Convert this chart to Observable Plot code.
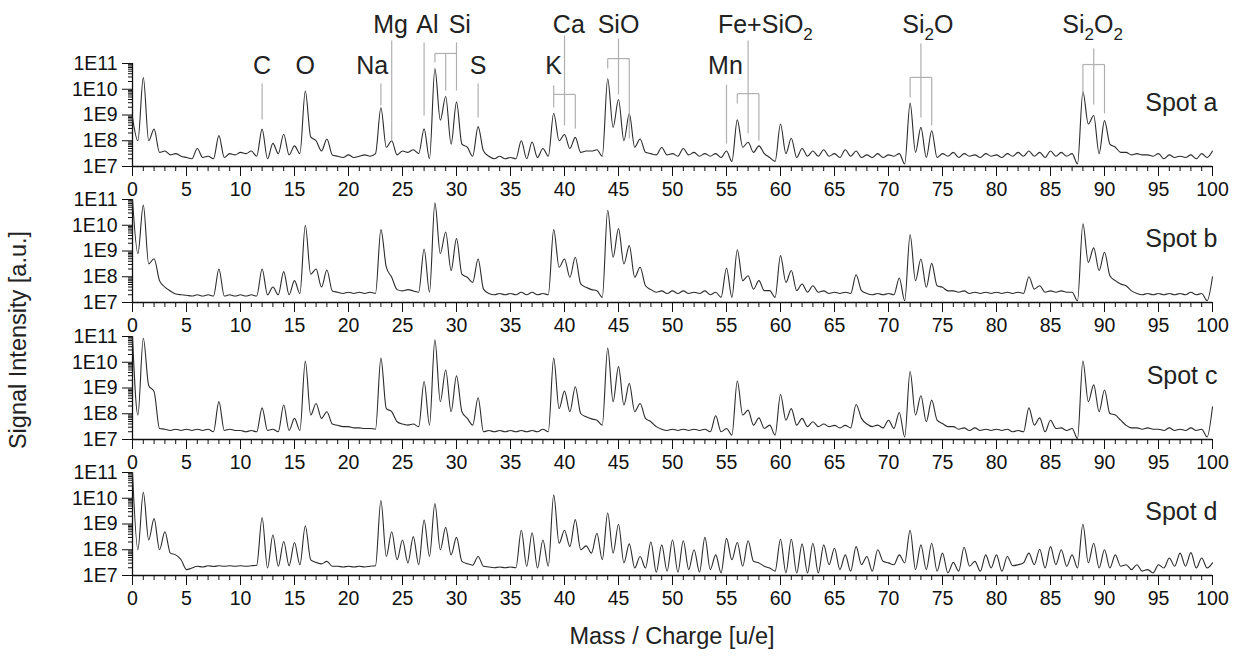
<!DOCTYPE html>
<html><head><meta charset="utf-8">
<script src="https://cdn.jsdelivr.net/npm/d3@7"></script>
<script src="https://cdn.jsdelivr.net/npm/@observablehq/plot@0.6"></script>
<style>
body{margin:0;background:#fff;font-family:"Liberation Sans",Arial,sans-serif;}
#wrap{position:relative;width:1237px;height:660px;overflow:hidden;background:#fff;}
.ttl{position:absolute;font-size:23.5px;color:#222;white-space:nowrap;transform:translate(-50%,-50%);}
</style></head><body><div id="wrap"></div>
<script>
// sampling grid of the spectra (mass/charge, u/e)
const massGrid = d3.range(0, 100.5, 0.5);
// log10 of the signal intensity, one value per grid point
const spotA = [
8.9,8.0,10.45,8.0,8.45,7.55,7.6,7.45,7.5,7.4, 7.35,7.3,7.7,7.35,7.4,7.3,8.2,7.35,7.5,7.45,
7.55,7.5,7.6,7.4,8.45,7.3,7.9,7.5,8.25,7.45, 7.8,7.5,9.93,8.15,8.0,7.6,8.07,7.45,7.4,7.35,
7.45,7.35,7.4,7.45,7.4,7.5,9.28,7.75,8.0,7.45, 7.6,7.55,7.65,7.5,8.46,7.3,10.8,8.8,9.72,7.87,
9.5,7.87,7.75,7.4,8.55,7.6,7.4,7.3,7.4,7.3, 7.35,7.3,8.0,7.3,7.95,7.35,7.7,7.4,9.07,8.0,
8.24,7.7,8.13,7.55,7.6,7.6,7.65,7.4,10.41,8.52, 9.6,8.0,9.05,7.75,8.07,7.55,7.5,7.45,7.74,7.45,
7.5,7.4,7.7,7.45,7.55,7.4,7.5,7.4,7.5,7.35, 7.6,7.2,8.81,7.75,7.94,7.55,7.8,7.5,7.35,7.2,
8.65,7.5,8.1,7.35,7.7,7.4,7.6,7.4,7.65,7.4, 7.5,7.35,7.65,7.4,7.6,7.35,7.45,7.35,7.5,7.35,
7.45,7.4,7.5,7.1,9.46,7.55,8.52,7.35,8.39,7.35, 7.5,7.4,7.55,7.35,7.5,7.4,7.45,7.35,7.5,7.4,
7.45,7.35,7.5,7.4,7.55,7.4,7.6,7.4,7.55,7.35, 7.6,7.4,7.55,7.4,7.5,7.1,9.9,8.65,8.98,7.5,
8.78,7.87,7.75,7.55,7.55,7.45,7.5,7.45,7.45,7.4, 7.5,7.3,7.45,7.35,7.4,7.35,7.45,7.3,7.5,7.35,
7.6];
const spotB = [
11.0,8.9,10.78,8.5,8.7,7.85,7.6,7.45,7.33,7.3, 7.28,7.25,7.3,7.25,7.3,7.25,8.3,7.25,7.3,7.25,
7.3,7.25,7.3,7.25,8.3,7.3,7.6,7.3,8.2,7.3, 7.85,7.35,10.0,8.1,8.3,7.6,8.26,7.45,7.4,7.35,
7.4,7.35,7.4,7.35,7.4,7.35,9.83,8.37,7.98,7.5, 7.45,7.5,7.45,7.4,9.08,7.4,10.87,8.9,9.74,8.24,
9.48,8.1,7.98,7.78,8.69,7.52,7.35,7.3,7.35,7.3, 7.35,7.3,7.4,7.3,7.4,7.3,7.35,7.3,9.83,8.37,
8.69,7.98,8.76,7.72,7.59,7.5,7.46,7.2,10.58,8.76, 9.87,8.5,9.21,7.98,8.37,7.65,7.5,7.4,7.45,7.35,
7.45,7.35,7.45,7.35,7.4,7.35,7.45,7.3,7.4,7.2, 8.34,7.2,9.05,7.85,8.04,7.52,7.85,7.46,7.46,7.2,
8.82,7.78,8.24,7.46,7.72,7.4,7.65,7.4,7.45,7.35, 7.4,7.35,7.4,7.35,8.08,7.46,7.35,7.3,7.35,7.3,
7.35,7.3,7.95,7.07,9.63,7.85,8.69,7.59,8.52,7.65, 7.59,7.45,7.45,7.4,7.45,7.35,7.4,7.35,7.4,7.35,
7.4,7.35,7.4,7.35,7.4,7.35,8.0,7.52,7.65,7.4, 7.45,7.4,7.45,7.4,7.4,7.07,10.06,8.56,9.12,8.24,
8.95,8.04,7.85,7.72,7.65,7.45,7.35,7.3,7.35,7.3, 7.35,7.3,7.35,7.3,7.35,7.3,7.4,7.3,7.35,7.07,
8.0];
const spotC = [
11.0,7.95,10.93,9.1,8.86,7.43,7.4,7.35,7.4,7.35, 7.4,7.35,7.4,7.35,7.4,7.3,8.47,7.35,7.4,7.35,
7.35,7.3,7.35,7.3,8.23,7.35,7.4,7.3,8.34,7.35, 7.82,7.35,10.05,7.95,8.4,7.82,8.08,7.6,7.55,7.5,
7.5,7.45,7.45,7.43,7.43,7.4,10.16,8.2,8.08,7.69, 7.6,7.56,7.6,7.5,9.25,7.56,10.87,8.47,9.7,8.08,
9.47,8.08,7.82,7.56,8.62,7.3,7.35,7.3,7.35,7.3, 7.35,7.3,7.35,7.3,7.35,7.3,7.4,7.3,10.16,8.2,
8.88,8.08,9.05,8.01,7.88,7.8,7.75,7.56,10.55,8.47, 9.83,8.34,9.18,8.08,8.4,7.82,7.69,7.5,7.4,7.35,
7.4,7.35,7.4,7.35,7.4,7.35,7.4,7.3,7.92,7.3, 7.43,7.17,9.27,7.95,8.14,7.56,7.84,7.43,7.56,7.17,
8.75,7.75,8.2,7.56,7.82,7.5,7.69,7.5,7.6,7.5, 7.55,7.45,7.55,7.45,8.36,7.82,7.6,7.5,7.56,7.45,
7.75,7.43,8.05,7.1,9.64,7.95,8.7,7.69,8.53,7.75, 7.62,7.5,7.5,7.4,7.45,7.35,7.45,7.35,7.4,7.35,
7.4,7.35,7.4,7.3,7.35,7.3,8.23,7.56,7.84,7.3, 7.75,7.43,7.45,7.35,7.43,7.04,10.05,8.47,9.12,8.08,
8.92,8.01,7.95,7.75,7.55,7.45,7.45,7.4,7.45,7.4, 7.4,7.35,7.45,7.35,7.4,7.35,7.45,7.35,7.4,7.1,
8.27];
const spotD = [
11.0,8.0,10.23,8.38,9.21,8.0,8.7,7.87,7.8,7.61, 7.23,7.29,7.36,7.33,7.38,7.35,7.38,7.36,7.38,7.36,
7.38,7.36,7.38,7.4,9.25,7.29,8.57,7.36,8.32,7.38, 8.28,7.42,8.92,7.61,7.51,7.45,7.55,7.36,7.36,7.33,
7.36,7.33,7.36,7.33,7.36,7.38,9.91,7.74,8.7,7.61, 8.38,7.49,8.51,7.42,9.15,7.74,9.79,8.0,8.87,7.8,
8.48,7.55,7.46,7.4,7.74,7.36,7.33,7.3,7.33,7.3, 7.33,7.3,8.76,7.36,8.66,7.29,8.38,7.36,10.13,8.25,
8.76,8.12,9.17,8.0,8.15,7.87,8.64,7.61,9.43,7.87, 8.99,7.49,8.23,7.29,7.74,7.29,8.3,7.13,8.19,7.17,
8.38,7.13,8.35,7.23,8.0,7.13,8.48,7.23,7.8,7.1, 8.44,7.61,8.28,7.36,8.35,7.55,7.49,7.36,7.29,7.17,
8.41,7.1,8.41,7.1,8.23,7.1,8.25,7.1,8.19,7.42, 8.06,7.23,7.8,7.17,8.12,7.42,7.74,7.17,8.0,7.55,
7.49,7.42,7.8,7.49,8.76,7.23,8.19,7.23,8.25,7.17, 7.87,7.1,7.51,7.17,8.1,7.36,7.55,7.17,7.8,7.29,
7.8,7.17,7.74,7.38,7.42,7.49,7.87,7.42,8.02,7.29, 8.12,7.42,8.0,7.36,7.8,7.29,8.99,7.49,8.25,7.29,
8.0,7.29,7.8,7.36,7.42,7.23,7.42,7.17,7.23,7.1, 7.42,7.29,7.68,7.36,7.87,7.36,7.89,7.29,7.68,7.29,
7.49];
const spotNames = ["Spot a", "Spot b", "Spot c", "Spot d"];
const spotSeries = [spotA, spotB, spotC, spotD];
// tick labels
const decadeTicks = [1e7, 1e8, 1e9, 1e10, 1e11];
const massTicks = [0, 5, 10, 15, 20, 25, 30, 35, 40, 45, 50, 55, 60, 65, 70, 75, 80, 85, 90, 95, 100];
// peak assignments (label, mass position of label, row)
const annoLabels = ["C", "O", "Na", "Mg", "Al", "Si", "S", "K", "Ca", "SiO", "Mn", "Fe+SiO_2", "Si_2O", "Si_2O_2"];
const annoMass   = [12, 16, 22.2, 23.9, 27.3, 30.3, 32, 39, 40.4, 45.0, 54.9, 58.6, 73.65, 88.9];
const annoRow    = ["low","low","low","high","high","high","low","low","high","high","low","high","high","high"];
// assignment lines: [mass1, log10 I1, mass2, log10 I2]
const annoSegs = [
 [12,10.22,12,8.83], [23,10.22,23,9.37], [24,11.89,24,8.01], [27,11.82,27,8.98],
 [30,11.82,30,9.95], [28,11.39,30,11.39], [28,11.39,28,11.04], [29,11.39,29,9.95],
 [32,10.22,32,8.9],
 [39,10.15,39,9.29], [39,9.8,41,9.8], [41,9.8,41,8.48],
 [40,12.09,40,8.59],
 [44,11.19,46,11.19], [44,11.19,44,10.81], [45,11.97,45,9.8], [46,11.19,46,8.09],
 [55,10.18,55,7.89],
 [57,11.89,57,8.28], [56,9.83,58,9.83], [56,9.83,56,9.45], [58,9.83,58,8.01],
 [73,11.78,73,8.9], [72,10.46,74,10.46], [72,10.46,72,9.68], [74,10.46,74,8.59],
 [89,11.58,89,9.41], [88,10.96,90,10.96], [88,10.96,88,9.83], [90,10.96,90,9.06]
];

// layout
const L = {plotTops: [63, 199, 336, 472], plotH: 103, left: 132, right: 25, width: 1237,
  rowLevel: {high: 12.48, low: 10.92}, spotLevel: 9.45};

const minorX = d3.range(0, 101, 1);
const minorY = [];
for (let e = 7; e < 11; e++) for (let k = 2; k <= 9; k++) minorY.push(k * 10 ** e);

const wrap = document.getElementById("wrap");
const font = '"Liberation Sans", Arial, sans-serif';

spotSeries.forEach((vals, i) => {
  const first = i === 0;
  const mt = first ? L.plotTops[0] : 14;
  const mb = 42;
  const data = massGrid.map((m, k) => ({m, v: 10 ** vals[k]}));
  const marks = [
    Plot.axisY(minorY, {anchor: "left", tickSize: 4, tickFormat: () => "", label: null}),
    Plot.axisY(decadeTicks, {anchor: "left", tickSize: 10, tickPadding: 5, label: null,
      tickFormat: d => "1E" + Math.round(Math.log10(d))}),
    Plot.axisX(minorX, {anchor: "bottom", tickSize: 5, tickFormat: () => "", label: null}),
    Plot.axisX(massTicks, {anchor: "bottom", tickSize: 10, tickPadding: 6, label: null}),
    Plot.ruleY([1e7], {stroke: "#111", strokeWidth: 1.3}),
    Plot.ruleX([0], {y1: 1e7, y2: 1e11, stroke: "#111", strokeWidth: 1.3}),
    Plot.line(data, {x: "m", y: "v", stroke: "#2b2b2b", strokeWidth: 1.1, curve: "monotone-x"}),
    Plot.text([spotNames[i]], {x: 100, y: 10 ** L.spotLevel, text: d => d, textAnchor: "end", dx: 5,
      fontSize: 25, fill: "#222"})
  ];
  if (first) {
    marks.push(Plot.link(annoSegs, {x1: d => d[0], y1: d => 10 ** d[1], x2: d => d[2], y2: d => 10 ** d[3],
      stroke: "#b0b0b0", strokeWidth: 1.2}));
    marks.push(Plot.text(annoLabels, {x: (d, j) => annoMass[j], y: (d, j) => 10 ** L.rowLevel[annoRow[j]],
      text: d => d, fontSize: 25, fill: "#222"}));
  }
  const svg = Plot.plot({
    width: L.width, height: mt + L.plotH + mb,
    marginLeft: L.left, marginRight: L.right, marginTop: mt, marginBottom: mb,
    x: {domain: [0, 100], label: null},
    y: {type: "log", domain: [1e7, 1e11], label: null},
    style: {background: "transparent", overflow: "visible", fontSize: "19.5px", fontFamily: font, color: "#111"},
    marks
  });
  svg.style.position = "absolute";
  svg.style.left = "0px";
  svg.style.top = (L.plotTops[i] - mt) + "px";
  // subscripts
  svg.querySelectorAll("text").forEach(t => {
    if (t.textContent.includes("_")) {
      const parts = t.textContent.split(/_(\d)/);
      let html = "", shifted = false;
      parts.forEach((p, j) => {
        if (p === "") return;
        if (j % 2 === 1) { html += `<tspan dy="7" font-size="17">${p}</tspan>`; shifted = true; }
        else { html += shifted ? `<tspan dy="-7">${p}</tspan>` : `<tspan>${p}</tspan>`; shifted = false; }
      });
      t.innerHTML = html;
    }
  });
  wrap.appendChild(svg);
});

const xt = document.createElement("div");
xt.className = "ttl"; xt.textContent = "Mass / Charge [u/e]";
xt.style.left = "672px"; xt.style.top = "636px";
wrap.appendChild(xt);
const yt = document.createElement("div");
yt.className = "ttl"; yt.textContent = "Signal Intensity [a.u.]";
yt.style.left = "18px"; yt.style.top = "340px";
yt.style.transform = "translate(-50%,-50%) rotate(-90deg)";
wrap.appendChild(yt);
</script></body></html>
